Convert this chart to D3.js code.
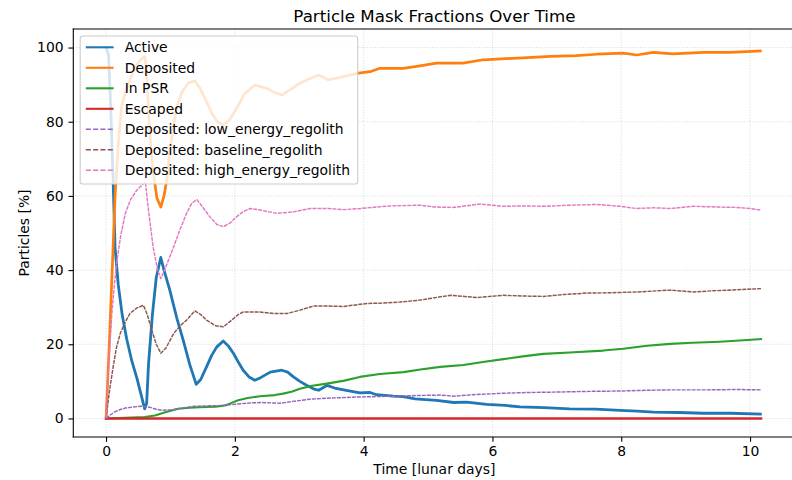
<!DOCTYPE html>
<html>
<head>
<meta charset="utf-8">
<script src="https://cdn.jsdelivr.net/npm/d3@7"></script>
<style>
  html, body { margin: 0; padding: 0; background: #ffffff; overflow: hidden; }
  svg { display: block; font-family: "DejaVu Sans", sans-serif; }
</style>
</head>
<body>
<svg id="chart" width="792" height="480"></svg>
<script>
// Particle fractions (%) against time (lunar days), as [t, value] pairs.
const active = [[0,100],[0.04,98],[0.08,80],[0.11,64],[0.14,46],[0.19,36],[0.25,28],[0.32,21.5],[0.4,15.5],[0.48,10.8],[0.55,6],[0.6,2.6],[0.63,4],[0.66,14.8],[0.72,28],[0.78,38],[0.85,43.4],[0.9,40],[0.99,34.6],[1.1,27],[1.2,21],[1.3,14.5],[1.4,9.2],[1.47,10.5],[1.56,13.9],[1.64,17],[1.72,19.3],[1.82,20.9],[1.9,19.5],[1.98,17.5],[2.06,15],[2.13,13],[2.22,11.2],[2.31,10.3],[2.4,11],[2.55,12.5],[2.73,13],[2.82,12.5],[2.91,11.2],[3.01,10],[3.12,8.9],[3.22,8],[3.3,7.6],[3.43,8.9],[3.55,8.2],[3.69,7.7],[3.94,6.9],[4.1,7.0],[4.2,6.4],[4.46,6.0],[4.61,5.9],[4.8,5.3],[5.13,4.9],[5.4,4.3],[5.6,4.4],[5.91,3.8],[6.2,3.5],[6.43,3.1],[6.8,2.9],[7.2,2.6],[7.6,2.5],[7.98,2.2],[8.25,2.0],[8.5,1.7],[8.9,1.6],[9.27,1.4],[9.7,1.4],[10.16,1.2]];

const deposited = [[0,0],[0.05,20],[0.1,42],[0.14,60],[0.19,74],[0.24,84],[0.3,88],[0.4,92.6],[0.48,95.3],[0.55,97],[0.6,97.6],[0.63,94],[0.66,82],[0.72,68],[0.79,59.4],[0.85,57],[0.9,60],[0.94,64],[0.99,72],[1.05,79],[1.1,84],[1.18,88],[1.28,90.5],[1.38,91],[1.46,89],[1.56,85.4],[1.65,82],[1.73,80],[1.82,79.1],[1.92,80.5],[2.03,83.7],[2.15,87.5],[2.31,89.9],[2.5,89],[2.6,88],[2.73,87.2],[2.85,88.5],[3.01,90.4],[3.15,91.5],[3.3,92.6],[3.45,91.3],[3.69,92.2],[3.92,93.1],[4.1,93.5],[4.25,94.4],[4.61,94.4],[4.85,95],[5.13,95.8],[5.54,95.8],[5.86,96.7],[6.32,97.1],[6.9,97.6],[7.3,97.8],[7.62,98.2],[8.03,98.5],[8.24,98.0],[8.5,98.7],[8.8,98.3],[9.27,98.7],[9.69,98.7],[10.16,99.1]];

const inPsr = [[0,0],[0.3,0.2],[0.6,0.4],[0.76,0.8],[0.92,1.7],[1.12,2.6],[1.3,2.9],[1.54,3.1],[1.7,3.2],[1.85,3.5],[1.95,4.2],[2.05,4.9],[2.2,5.5],[2.39,6.0],[2.62,6.3],[2.75,6.7],[2.88,7.2],[3.01,8.0],[3.2,8.8],[3.43,9.4],[3.7,10.2],[3.94,11.2],[4.25,12.0],[4.62,12.5],[4.88,13.2],[5.19,13.9],[5.55,14.4],[5.85,15.2],[6.17,16.0],[6.5,16.8],[6.79,17.4],[7.2,17.8],[7.72,18.3],[8.03,18.8],[8.4,19.6],[8.76,20.1],[9.1,20.4],[9.53,20.7],[9.9,21.1],[10.17,21.4]];

const escaped = [[0,0],[10.17,0]];

const depLowEnergy = [[0,0],[0.07,1.0],[0.14,1.8],[0.22,2.4],[0.3,2.8],[0.42,3.1],[0.55,3.3],[0.68,3.0],[0.78,2.5],[0.86,2.2],[1.0,2.3],[1.12,2.6],[1.25,3.0],[1.38,3.3],[1.6,3.4],[1.8,3.5],[2.05,3.9],[2.25,4.2],[2.42,4.3],[2.7,4.1],[2.9,4.6],[3.17,5.2],[3.5,5.5],[3.94,5.8],[4.46,6.0],[4.88,6.2],[5.19,6.3],[5.39,6.0],[5.7,6.4],[6.17,6.8],[6.55,7.0],[6.95,7.1],[7.5,7.3],[7.98,7.4],[8.4,7.6],[8.76,7.7],[9.3,7.7],[9.8,7.8],[10.17,7.7]];

const depBaseline = [[0,0],[0.05,7],[0.11,13.9],[0.16,19],[0.22,22.9],[0.3,26],[0.37,28.3],[0.48,29.8],[0.58,30.5],[0.64,28],[0.71,23.8],[0.78,20],[0.85,17.6],[0.93,19],[1.05,22.9],[1.15,25],[1.25,26.5],[1.38,29.0],[1.47,28],[1.56,26.5],[1.7,25],[1.82,24.7],[1.95,26.5],[2.05,28],[2.13,28.7],[2.39,28.7],[2.6,28.3],[2.81,28.3],[3.01,29.2],[3.22,30.3],[3.45,30.3],[3.69,30.2],[4.05,31.0],[4.3,31.1],[4.57,31.4],[4.88,31.9],[5.19,32.8],[5.35,33.2],[5.76,32.6],[6.17,33.2],[6.5,33.0],[6.79,32.9],[7.1,33.4],[7.46,33.8],[7.85,33.9],[8.24,34.1],[8.76,34.6],[9.12,34.1],[9.4,34.4],[9.79,34.7],[10.17,35.0]];

const depHighEnergy = [[0,0],[0.04,14],[0.09,28.3],[0.13,36],[0.17,42.7],[0.23,49.5],[0.3,55.3],[0.38,59],[0.48,61.6],[0.61,63.8],[0.66,56],[0.73,46.3],[0.8,40],[0.85,37.7],[0.92,40.5],[1.05,46.3],[1.15,51],[1.25,55.3],[1.33,58],[1.41,59.0],[1.5,57],[1.61,54.4],[1.72,52.3],[1.82,51.7],[1.92,52.6],[2.03,54.4],[2.13,55.8],[2.24,56.6],[2.39,56.2],[2.65,55.3],[2.91,55.7],[3.17,56.6],[3.45,56.6],[3.69,56.3],[3.95,56.6],[4.2,57.0],[4.4,57.3],[4.88,57.5],[5.1,57.0],[5.39,56.9],[5.81,57.8],[6.17,57.2],[6.5,57.3],[6.84,57.2],[7.2,57.5],[7.62,57.7],[7.98,57.2],[8.24,56.6],[8.5,56.8],[8.76,56.6],[9.12,57.2],[9.5,57.0],[9.79,56.9],[10.0,56.6],[10.17,56.2]];

const xTicks = [0, 2, 4, 6, 8, 10];
const yTicks = [0, 20, 40, 60, 80, 100];

const seriesNames = ["Active", "Deposited", "In PSR", "Escaped",
  "Deposited: low_energy_regolith", "Deposited: baseline_regolith", "Deposited: high_energy_regolith"];
const seriesData = [active, deposited, inPsr, escaped, depLowEnergy, depBaseline, depHighEnergy];

const titleText = "Particle Mask Fractions Over Time";
const xLabelText = "Time [lunar days]";
const yLabelText = "Particles [%]";

// ---- styling ----
const colors = ["#1f77b4", "#ff7f0e", "#2ca02c", "#d62728", "#9467bd", "#8c564b", "#e377c2"];
const widths = [2.8, 2.7, 2.1, 2.4, 1.45, 1.45, 1.45];
// dense dash for the plotted per-regolith curves, matplotlib-style dash in the legend
const plotDash = [null, null, null, null, "4,1", "4,1", "4,1"];
const legendDash = [null, null, null, null, "5.1,2.2", "5.1,2.2", "5.1,2.2"];

const W = 792, H = 480;
const plot = { left: 73.3, right: 795.5, top: 29, bottom: 437 };
const fs = 13.9;

const svg = d3.select("#chart");
svg.append("rect").attr("width", W).attr("height", H).attr("fill", "#ffffff");

const x = d3.scaleLinear().domain([-0.5085, 10.7056]).range([plot.left, plot.right]);
const y = d3.scaleLinear().domain([-5, 105]).range([plot.bottom, plot.top]);

// grid
const grid = svg.append("g");
grid.selectAll("line.gx").data(xTicks).join("line")
  .attr("x1", d => x(d)).attr("x2", d => x(d))
  .attr("y1", plot.top).attr("y2", plot.bottom)
  .attr("stroke", "#b0b0b0").attr("stroke-opacity", 0.6)
  .attr("stroke-width", 0.8).attr("stroke-dasharray", "1,1.6");
grid.selectAll("line.gy").data(yTicks).join("line")
  .attr("x1", plot.left).attr("x2", W)
  .attr("y1", d => y(d)).attr("y2", d => y(d))
  .attr("stroke", "#b0b0b0").attr("stroke-opacity", 0.6)
  .attr("stroke-width", 0.8).attr("stroke-dasharray", "1,1.6");

// clip
svg.append("defs").append("clipPath").attr("id", "clip")
  .append("rect").attr("x", plot.left).attr("y", plot.top)
  .attr("width", plot.right - plot.left).attr("height", plot.bottom - plot.top);

const line = d3.line().x(d => x(d[0])).y(d => y(d[1]));
const lines = svg.append("g").attr("clip-path", "url(#clip)");
seriesData.forEach((data, i) => {
  lines.append("path")
    .attr("d", line(data))
    .attr("fill", "none")
    .attr("stroke", colors[i])
    .attr("stroke-width", widths[i])
    .attr("stroke-linejoin", "round")
    .attr("stroke-linecap", plotDash[i] ? "butt" : "square")
    .attr("stroke-dasharray", plotDash[i]);
});

// axes
const xAxis = d3.axisBottom(x).tickValues(xTicks).tickSize(4.86).tickPadding(4.4).tickSizeOuter(0)
  .tickFormat(d3.format("d"));
const yAxis = d3.axisLeft(y).tickValues(yTicks).tickSize(4.86).tickPadding(4.86).tickSizeOuter(0)
  .tickFormat(d3.format("d"));

const gx = svg.append("g").attr("transform", `translate(0,${plot.bottom})`).call(xAxis);
const gy = svg.append("g").attr("transform", `translate(${plot.left},0)`).call(yAxis);
[gx, gy].forEach(g => {
  g.select(".domain").remove();
  g.selectAll(".tick line").attr("stroke", "#000").attr("stroke-width", 1.1);
  g.selectAll(".tick text").attr("fill", "#000")
    .style("font-family", "'DejaVu Sans', sans-serif").style("font-size", fs + "px");
});

// spines (the right one lies past the canvas edge)
const spines = svg.append("g").attr("stroke", "#000").attr("stroke-width", 1.1).attr("fill", "none");
spines.append("line").attr("x1", plot.left).attr("x2", plot.left).attr("y1", plot.top - 0.55).attr("y2", plot.bottom + 0.55);
spines.append("line").attr("x1", plot.left - 0.55).attr("x2", W).attr("y1", plot.top).attr("y2", plot.top);
spines.append("line").attr("x1", plot.left - 0.55).attr("x2", W).attr("y1", plot.bottom).attr("y2", plot.bottom);

// legend
const leg = svg.append("g");
const legX = 80.2, legY = 36, legW = 277.5, legH = 148;
leg.append("rect").attr("x", legX).attr("y", legY).attr("width", legW).attr("height", legH)
  .attr("rx", 2.8).attr("fill", "#ffffff").attr("fill-opacity", 0.8)
  .attr("stroke", "#cccccc").attr("stroke-width", 1.1);
const rowH = 20.5, firstRow = 47.3;
seriesNames.forEach((name, i) => {
  const cy = firstRow + i * rowH;
  leg.append("line").attr("x1", 85.8).attr("x2", 113.6).attr("y1", cy).attr("y2", cy)
    .attr("stroke", colors[i]).attr("stroke-width", legendDash[i] ? 1.39 : 2.08)
    .attr("stroke-dasharray", legendDash[i]);
  leg.append("text").attr("x", 124.7).attr("y", cy + 5)
    .attr("font-size", fs).attr("fill", "#000").text(name);
});

// labels
svg.append("text").attr("x", (plot.left + plot.right) / 2).attr("y", 21.5)
  .attr("text-anchor", "middle").attr("font-size", 16.7).attr("fill", "#000").text(titleText);
svg.append("text").attr("x", (plot.left + plot.right) / 2).attr("y", 474)
  .attr("text-anchor", "middle").attr("font-size", fs).attr("fill", "#000").text(xLabelText);
svg.append("text").attr("transform", `translate(29,${(plot.top + plot.bottom) / 2}) rotate(-90)`)
  .attr("text-anchor", "middle").attr("font-size", fs).attr("fill", "#000").text(yLabelText);
</script>
</body>
</html>
